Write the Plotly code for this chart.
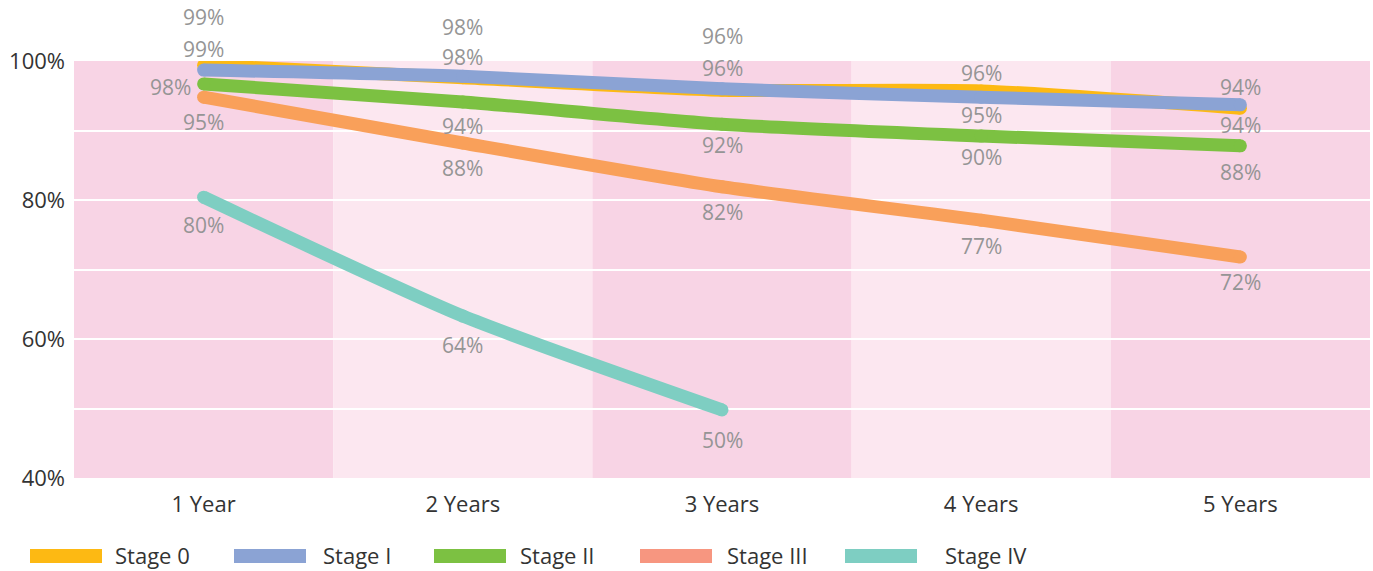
import plotly.graph_objects as go

categories = ["1 Year", "2 Years", "3 Years", "4 Years", "5 Years"]
series_names = ["Stage 0", "Stage I", "Stage II", "Stage III", "Stage IV"]

stage0 = [99.4, 97.6, 95.8, 95.7, 93.2]
stage1 = [98.7, 97.8, 96.0, 94.8, 93.7]
stage2 = [96.7, 94.1, 90.9, 89.2, 87.8]
stage3 = [94.8, 88.2, 81.9, 77.1, 71.8]
stage4 = [80.4, 63.3, 49.8]

labels0 = ["99%", "98%", "96%", "96%", "94%"]
labels1 = ["99%", "98%", "96%", "95%", "94%"]
labels2 = ["98%", "94%", "92%", "90%", "88%"]
labels3 = ["95%", "88%", "82%", "77%", "72%"]
labels4 = ["80%", "64%", "50%"]

y_ticks = [40, 60, 80, 100]
y_tick_text = ["40%", "60%", "80%", "100%"]

# styling
line_colors = ["#fdb913", "#8ba3d4", "#7cc142", "#f9a05a", "#7ecec2"]
legend_colors = ["#fdb913", "#8ba3d4", "#7cc142", "#f79680", "#7ecec2"]
label_shifts = [
    [(0, 48), (0, 51), (0, 54), (0, 18), (0, 21)],
    [(0, 21), (0, 19), (0, 21), (0, -18), (0, -20)],
    [(-33, -3), (0, -24), (0, -21), (0, -21), (0, -26)],
    [(0, -25), (0, -25), (0, -25), (0, -26), (0, -25)],
    [(0, -28), (0, -29), (0, -30)],
]
FONT = "Open Sans"
W, H = 1373, 571
ML, MR, MT, MB = 74, 3, 61, 93
band_dark = "#f8d4e5"
band_light = "#fce7f0"

values = [stage0, stage1, stage2, stage3, stage4]
texts = [labels0, labels1, labels2, labels3, labels4]

fig = go.Figure()
for name, vals, col in zip(series_names, values, line_colors):
    fig.add_trace(go.Scatter(
        x=categories[:len(vals)], y=vals, name=name, mode="lines+markers",
        line=dict(color=col, width=13, shape="spline", smoothing=0.6),
        marker=dict(color=col, size=13, line=dict(width=0)),
        showlegend=False, hoverinfo="skip",
    ))

annotations = []
for vals, labs, shifts in zip(values, texts, label_shifts):
    for i, (v, t) in enumerate(zip(vals, labs)):
        annotations.append(dict(
            x=categories[i], y=v, xref="x", yref="y", text=t, showarrow=False,
            xshift=shifts[i][0], yshift=shifts[i][1],
            font=dict(family=FONT, size=21, color="#959595"),
        ))

shapes = []
for i in range(len(categories)):
    shapes.append(dict(
        type="rect", xref="x", yref="paper", x0=i - 0.5, x1=i + 0.5, y0=0, y1=1,
        fillcolor=band_dark if i % 2 == 0 else band_light, line=dict(width=0),
        layer="below",
    ))

# manual legend (wide swatches)
plot_w = W - ML - MR
plot_h = H - MT - MB
def px_x(p):
    return (p - ML) / plot_w
def px_y(p):
    return (H - MB - p) / plot_h

swatch_left = [30, 234, 434, 640, 845]
text_left = [113, 321, 518, 725, 943]
for name, col, sx, tx in zip(series_names, legend_colors, swatch_left, text_left):
    shapes.append(dict(
        type="rect", xref="paper", yref="paper",
        x0=px_x(sx), x1=px_x(sx + 72), y0=px_y(563), y1=px_y(549),
        fillcolor=col, line=dict(width=0),
    ))
    annotations.append(dict(
        x=px_x(tx), y=px_y(555), xref="paper", yref="paper", text=name,
        showarrow=False, xanchor="left", yanchor="middle",
        font=dict(family=FONT, size=22, color="#333333"),
    ))

fig.update_layout(
    width=W, height=H,
    margin=dict(l=ML, r=MR, t=MT, b=MB),
    paper_bgcolor="white", plot_bgcolor="white",
    font=dict(family=FONT, size=22, color="#333333"),
    shapes=shapes, annotations=annotations,
    xaxis=dict(
        type="category", categoryorder="array", categoryarray=categories,
        range=[-0.5, len(categories) - 0.5], showgrid=False, zeroline=False,
        showline=False, ticks="", ticklabelstandoff=11,
        tickfont=dict(family=FONT, size=22, color="#333333"),
    ),
    yaxis=dict(
        range=[40, 100], tickvals=y_ticks, ticktext=y_tick_text,
        showgrid=True, gridcolor="white", gridwidth=2, zeroline=False,
        showline=False, ticks="", ticklabelstandoff=8,
        tickfont=dict(family=FONT, size=22, color="#333333"),
        minor=dict(dtick=10, tick0=40, showgrid=True, gridcolor="white", gridwidth=2),
        layer="above traces",
    ),
)

fig.write_html("out.html")
